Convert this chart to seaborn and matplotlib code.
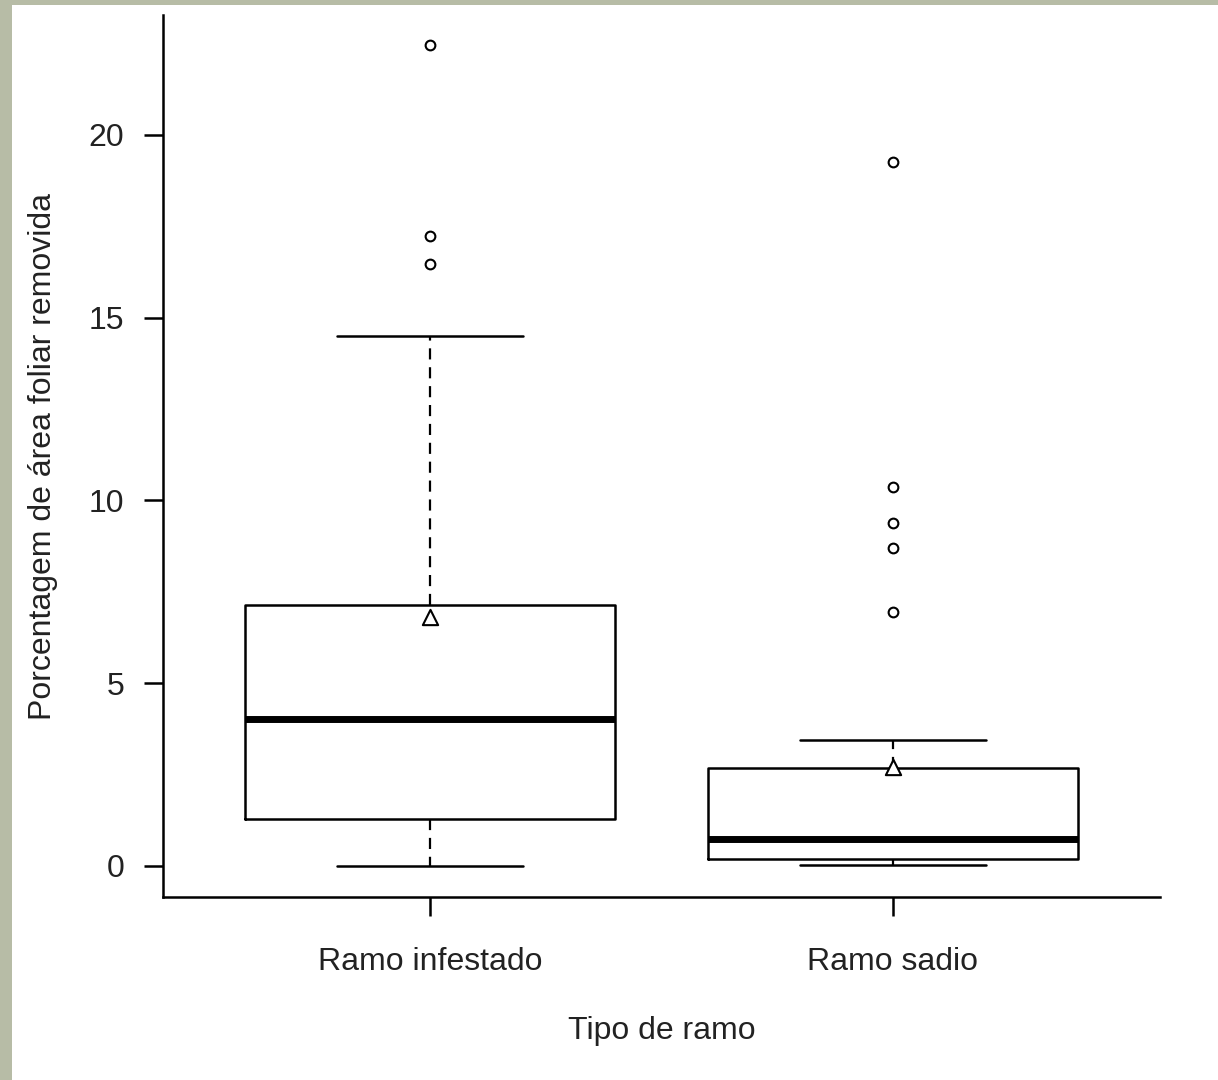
import pandas as pd
import matplotlib.pyplot as plt
import matplotlib.patches as mpatches
import seaborn as sns

# values
tipos = ['Ramo infestado', 'Ramo sadio']
whis_lo = [0.0, 0.03]
q1 = [1.28, 0.19]
medianas = [4.02, 0.74]
q3 = [7.13, 2.68]
whis_hi = [14.5, 3.44]
medias = [6.8, 2.7]
outliers_infestado = [16.48, 17.24, 22.46]
outliers_sadio = [6.94, 8.69, 9.37, 10.36, 19.26]


def main():
    sns.set_theme(style='white')
    plt.rcParams['font.family'] = ['Liberation Sans', 'DejaVu Sans']

    fig = plt.figure(figsize=(12.18, 10.8), dpi=100, facecolor='#b7bca6')
    # white plotting panel over the photo background
    fig.patches.append(mpatches.Rectangle((12 / 1218, 0), 1, 1 - 5 / 1080,
                                          transform=fig.transFigure,
                                          facecolor='white', edgecolor='none', zorder=-5))
    ax = fig.add_axes([163 / 1218, 1 - 897 / 1080, 997 / 1218, 882 / 1080])
    ax.set_facecolor('none')

    stats = []
    for i, t in enumerate(tipos):
        stats.append(dict(label=t, whislo=whis_lo[i], q1=q1[i], med=medianas[i],
                          q3=q3[i], whishi=whis_hi[i], fliers=[]))

    ax.bxp(stats, positions=[0, 1], widths=0.8, capwidths=0.4,
           showfliers=False, patch_artist=False,
           boxprops=dict(color='black', linewidth=1.8),
           whiskerprops=dict(color='black', linewidth=1.6, linestyle=(0, (5, 3.5))),
           capprops=dict(color='black', linewidth=1.8),
           medianprops=dict(color='black', linewidth=5, solid_capstyle='butt'))

    out = pd.DataFrame({
        'tipo': [tipos[0]] * len(outliers_infestado) + [tipos[1]] * len(outliers_sadio),
        'valor': outliers_infestado + outliers_sadio,
    })
    sns.stripplot(data=out, x='tipo', y='valor', order=tipos, jitter=False,
                  marker='o', size=7, color='white', edgecolor='black',
                  linewidth=1.5, ax=ax, zorder=3)

    med_df = pd.DataFrame({'tipo': tipos, 'media': medias})
    sns.stripplot(data=med_df, x='tipo', y='media', order=tipos, jitter=False,
                  marker='^', size=11, color='white', edgecolor='black',
                  linewidth=1.5, ax=ax, zorder=4)

    ax.set_xlim(-0.577, 1.577)
    ax.set_ylim(-0.85, 23.28)
    ax.set_yticks([0, 5, 10, 15, 20])
    ax.set_yticklabels(['0', '5', '10', '15', '20'])
    ax.set_xticks([0, 1])
    ax.set_xticklabels(tipos)

    for s in ['top', 'right']:
        ax.spines[s].set_visible(False)
    for s in ['left', 'bottom']:
        ax.spines[s].set_color('black')
        ax.spines[s].set_linewidth(1.8)

    ax.tick_params(axis='both', direction='out', length=14, width=1.8,
                   color='black', labelsize=23, labelcolor='#222222',
                   bottom=True, left=True)
    ax.tick_params(axis='y', pad=14)
    ax.tick_params(axis='x', pad=22)

    ax.set_xlabel('Tipo de ramo', fontsize=23, color='#222222', labelpad=28)
    ax.set_ylabel('Porcentagem de área foliar removida', fontsize=23,
                  color='#222222', labelpad=22)

    plt.savefig('out.png', dpi=100, facecolor=fig.get_facecolor())


if __name__ == '__main__':
    main()
